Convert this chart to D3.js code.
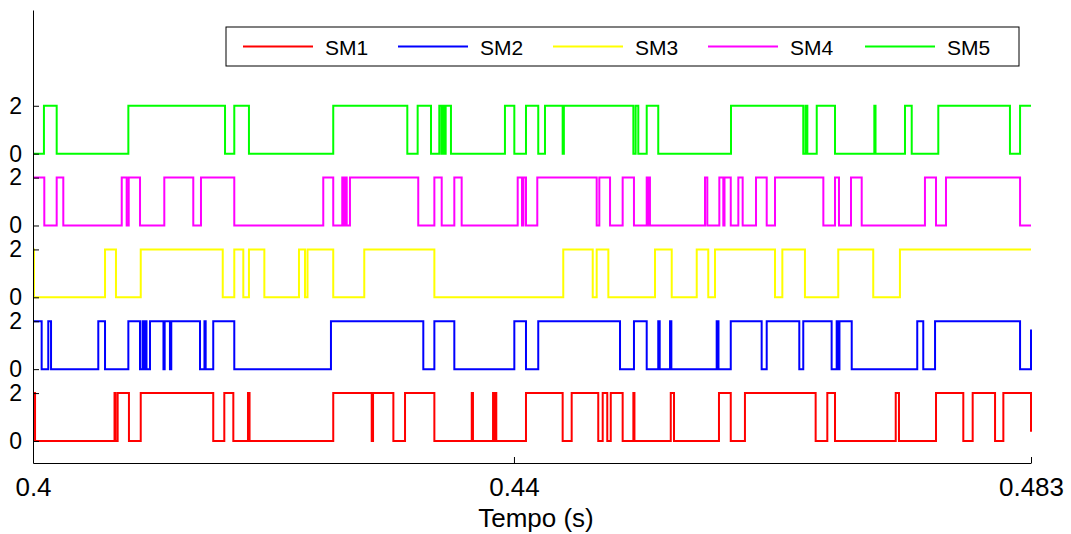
<!doctype html>
<html lang="en">
<head>
  <meta charset="utf-8">
  <title>SM switching states</title>
  <style>
  body {
    margin: 0;
    background: #fff;
  }
  text {
    font-family: "Liberation Sans", Arial, Helvetica, sans-serif;
  }
  .axis text {
    fill: #000;
  }
  .xaxis text {
    font-size: 26px;
  }
  .yaxis text {
    font-size: 23px;
  }
  .axis path, .axis line {
    stroke: #000;
    stroke-width: 1px;
  }
  .sig {
    fill: none;
    stroke-width: 2px;
  }
  </style>
  <script src="https://d3js.org/d3.v7.min.js"></script>
</head>
<body>
  <div id="chart"></div>
  <script>
  // series names and colours (legend order)
  var names = ["SM1", "SM2", "SM3", "SM4", "SM5"];
  var colors = ["#ff0000", "#0000ff", "#ffff00", "#ff00ff", "#00ff00"];

  // state at t = 0.4 s, and the value where each trace is cut at t = 0.483 s
  var startState = [2, 2, 2, 2, 0];
  var endState = [0.38, 1.66, 2, 0, 2];

  // switching instants (s), every entry toggles the state 0 <-> 2
  var sm1Switch = [0.40017, 0.40678, 0.40686, 0.40704, 0.40798, 0.40896, 0.41499, 0.41591, 0.41666,
    0.41788, 0.41801, 0.42497, 0.42817, 0.42828, 0.42997, 0.43094, 0.43338, 0.43649, 0.43659,
    0.43826, 0.43836, 0.43845, 0.43853, 0.44100, 0.44405, 0.44480, 0.44701, 0.44738, 0.44776,
    0.44805, 0.44904, 0.44993, 0.45002, 0.45304, 0.45331, 0.45705, 0.45803, 0.45921, 0.46509,
    0.46606, 0.46670, 0.47175, 0.47202, 0.47510, 0.47737, 0.47815, 0.48001, 0.48070];

  var sm2Switch = [0.40072, 0.40127, 0.40150, 0.40543, 0.40599, 0.40793, 0.40890, 0.40911, 0.40919,
    0.40931, 0.40944, 0.40973, 0.41085, 0.41095, 0.41139, 0.41150, 0.41389, 0.41426, 0.41436,
    0.41499, 0.41674, 0.42478, 0.43246, 0.43338, 0.43504, 0.44003, 0.44100, 0.44202, 0.44882,
    0.44998, 0.45104, 0.45200, 0.45212, 0.45298, 0.45309, 0.45686, 0.45701, 0.45803, 0.46060,
    0.46102, 0.46373, 0.46406, 0.46642, 0.46684, 0.46695, 0.46707, 0.46809, 0.47354, 0.47404,
    0.47502, 0.48209];

  var sm3Switch = [0.40008, 0.40599, 0.40690, 0.40896, 0.41578, 0.41674, 0.41749, 0.41796, 0.41924,
    0.42212, 0.42262, 0.42283, 0.42497, 0.42755, 0.43338, 0.44410, 0.44655, 0.44688, 0.44785,
    0.45173, 0.45312, 0.45520, 0.45616, 0.45672, 0.46171, 0.46232, 0.46420, 0.46697, 0.46988,
    0.47210];

  var sm4Switch = [0.40094, 0.40197, 0.40252, 0.40738, 0.40779, 0.40796, 0.40890, 0.41092, 0.41333,
    0.41397, 0.41674, 0.42414, 0.42497, 0.42572, 0.42582, 0.42595, 0.42609, 0.42636, 0.43204,
    0.43338, 0.43399, 0.43504, 0.43565, 0.44031, 0.44067, 0.44079, 0.44100, 0.44194, 0.44688,
    0.44710, 0.44799, 0.44904, 0.44998, 0.45104, 0.45115, 0.45123, 0.45131, 0.45589, 0.45608,
    0.45708, 0.45741, 0.45751, 0.45803, 0.45866, 0.45902, 0.46013, 0.46102, 0.46171, 0.46573,
    0.46670, 0.46703, 0.46803, 0.46892, 0.47418, 0.47510, 0.47593, 0.48209];

  var sm5Switch = [0.40091, 0.40197, 0.40793, 0.41597, 0.41674, 0.41796, 0.42497, 0.43113, 0.43199,
    0.43310, 0.43379, 0.43397, 0.43410, 0.43421, 0.43432, 0.43476, 0.43925, 0.44003, 0.44100,
    0.44202, 0.44258, 0.44405, 0.44415, 0.44993, 0.45012, 0.45034, 0.45104, 0.45200, 0.45805,
    0.46406, 0.46425, 0.46440, 0.46518, 0.46670, 0.46997, 0.47007, 0.47252, 0.47308, 0.47529,
    0.48125, 0.48209];

  var switches = [sm1Switch, sm2Switch, sm3Switch, sm4Switch, sm5Switch];

  // axis ticks
  var xTicks = [0.4, 0.44, 0.483];
  var yTickValues = [0, 2, 3, 5, 6, 8, 9, 11, 12, 14];
  var yTickLabels = ["0", "2", "0", "2", "0", "2", "0", "2", "0", "2"];
  var stackStep = 3; // vertical offset between traces

  var W = 1071, H = 534;
  var margin = {top: 10, right: 40, bottom: 71, left: 33};

  var x = d3.scaleLinear()
    .domain([0.4, 0.483])
    .range([margin.left, W - margin.right]);

  var y = d3.scaleLinear()
    .domain([-0.92, 18])
    .range([H - margin.bottom, margin.top]);

  var svg = d3.select("#chart").append("svg")
    .attr("width", W)
    .attr("height", H);

  // build step points for each trace
  function buildSteps(i) {
    var s = startState[i];
    var pts = [[0.4, s]];
    switches[i].forEach(function(t) {
      s = (s === 0) ? 2 : 0;
      pts.push([t, s]);
    });
    pts.push([0.483, endState[i]]);
    return pts.map(function(p) { return [p[0], p[1] + i * stackStep]; });
  }

  var line = d3.line()
    .x(function(d) { return x(d[0]); })
    .y(function(d) { return y(d[1]); })
    .curve(d3.curveStepAfter);

  svg.selectAll("path.sig")
    .data(names)
    .enter()
    .append("path")
    .attr("class", "sig")
    .attr("stroke", function(d, i) { return colors[i]; })
    .attr("d", function(d, i) { return line(buildSteps(i)); });

  // axes (MATLAB style, ticks pointing inwards)
  var xAxis = d3.axisBottom(x)
    .tickValues(xTicks)
    .tickFormat(function(d) { return String(d); })
    .tickSizeInner(-6)
    .tickSizeOuter(0)
    .tickPadding(15);

  svg.append("g")
    .attr("class", "axis xaxis")
    .attr("transform", "translate(0," + (H - margin.bottom) + ")")
    .call(xAxis);

  var yAxis = d3.axisLeft(y)
    .tickValues(yTickValues)
    .tickFormat(function(d, i) { return yTickLabels[i]; })
    .tickSizeInner(-6)
    .tickSizeOuter(0)
    .tickPadding(11);

  svg.append("g")
    .attr("class", "axis yaxis")
    .attr("transform", "translate(" + margin.left + ",0)")
    .call(yAxis);

  svg.append("text")
    .attr("x", 536)
    .attr("y", 527)
    .attr("text-anchor", "middle")
    .style("font-size", "26px")
    .text("Tempo (s)");

  // legend
  var legend = svg.append("g").attr("transform", "translate(226,27)");
  legend.append("rect")
    .attr("width", 793)
    .attr("height", 39)
    .attr("fill", "#fff")
    .attr("stroke", "#000")
    .attr("stroke-width", 1);

  var entryX = [17, 172, 327, 482, 639];
  names.forEach(function(n, i) {
    legend.append("line")
      .attr("x1", entryX[i]).attr("x2", entryX[i] + 70)
      .attr("y1", 19.5).attr("y2", 19.5)
      .attr("stroke", colors[i])
      .attr("stroke-width", 2);
    legend.append("text")
      .attr("x", entryX[i] + 82)
      .attr("y", 28)
      .style("font-size", "21px")
      .text(n);
  });
  </script>
</body>
</html>
